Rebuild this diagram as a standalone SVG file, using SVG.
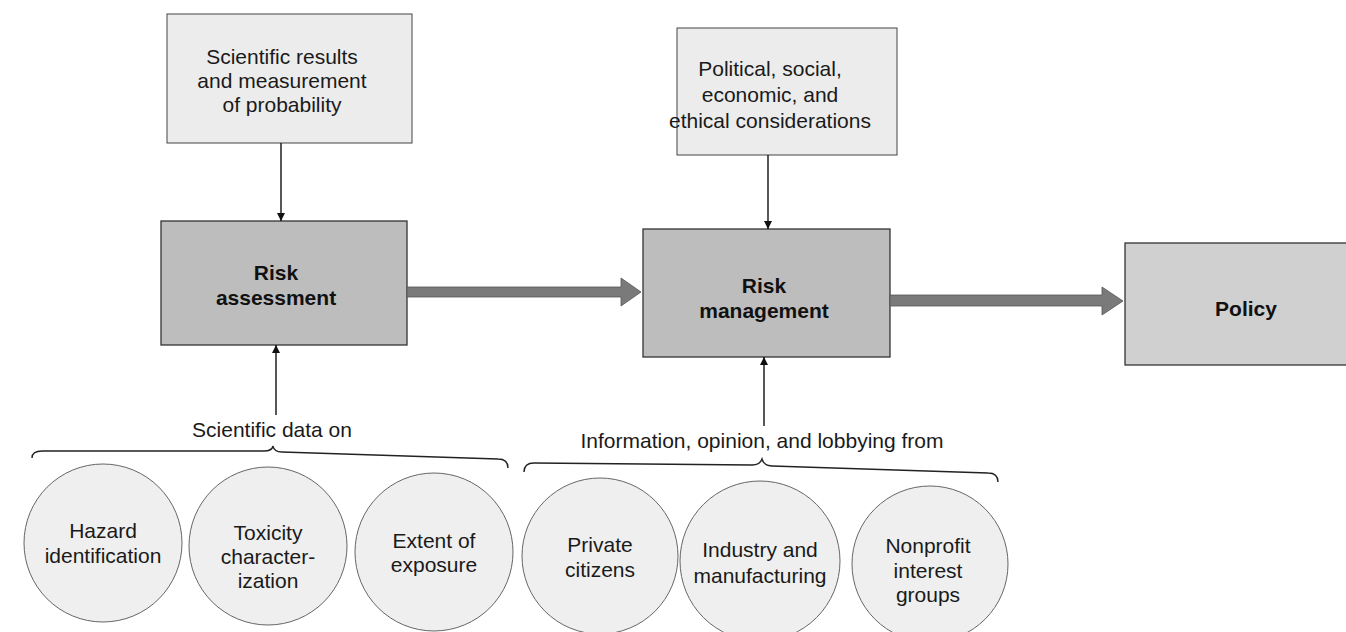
<svg xmlns="http://www.w3.org/2000/svg" width="1346" height="632" viewBox="0 0 1346 632">
<style>
text{font-family:"Liberation Sans",Arial,sans-serif;font-size:21px;fill:#1a1a1a;text-anchor:middle}
.b{font-weight:bold;fill:#111}
.top{fill:#ececec;stroke:#444;stroke-width:1}
.main{fill:#bdbdbd;stroke:#333;stroke-width:1.3}
.pol{fill:#d0d0d0;stroke:#333;stroke-width:1.3}
.circ{fill:#efefef;stroke:#666;stroke-width:1}
.thin{stroke:#111;stroke-width:1.4;fill:none}
.brace{stroke:#222;stroke-width:1.4;fill:none}
.thick{fill:#7a7a7a;stroke:#555;stroke-width:0.8}
</style>
<defs>
<marker id="ah" viewBox="0 0 10 10" refX="10" refY="5" markerWidth="8" markerHeight="10" markerUnits="userSpaceOnUse" orient="auto">
<path d="M0,0 L10,5 L0,10 Z" fill="#111"/>
</marker>
</defs>
<rect width="1346" height="632" fill="#fff"/>

<g id="sci-results">
<rect class="top" x="167" y="14" width="245" height="129"/>
<text x="282" y="64">Scientific results</text>
<text x="282" y="88">and measurement</text>
<text x="282" y="112">of probability</text>
</g>

<g id="considerations">
<rect class="top" x="677" y="28" width="220" height="127"/>
<text x="770" y="76">Political, social,</text>
<text x="770" y="102">economic, and</text>
<text x="770" y="128">ethical considerations</text>
</g>

<g id="risk-assessment">
<rect class="main" x="161" y="221" width="246" height="124"/>
<text class="b" x="276" y="280">Risk</text>
<text class="b" x="276" y="305">assessment</text>
</g>

<g id="risk-management">
<rect class="main" x="643" y="229" width="247" height="128"/>
<text class="b" x="764" y="293">Risk</text>
<text class="b" x="764" y="318">management</text>
</g>

<g id="policy">
<rect class="pol" x="1125" y="243" width="230" height="122"/>
<text class="b" x="1246" y="316">Policy</text>
</g>

<g id="sci-data-label">
<text x="272" y="437">Scientific data on</text>
</g>
<g id="info-label">
<text x="762" y="448">Information, opinion, and lobbying from</text>
</g>

<g id="hazard">
<circle class="circ" cx="103" cy="543" r="79"/>
<text x="103" y="538">Hazard</text>
<text x="103" y="563">identification</text>
</g>
<g id="toxicity">
<circle class="circ" cx="268" cy="546" r="79"/>
<text x="268" y="540">Toxicity</text>
<text x="268" y="564">character-</text>
<text x="268" y="588">ization</text>
</g>
<g id="exposure">
<circle class="circ" cx="434" cy="552" r="79"/>
<text x="434" y="548">Extent of</text>
<text x="434" y="572">exposure</text>
</g>
<g id="private">
<circle class="circ" cx="600" cy="556" r="78"/>
<text x="600" y="552">Private</text>
<text x="600" y="577">citizens</text>
</g>
<g id="industry">
<circle class="circ" cx="760" cy="561" r="80"/>
<text x="760" y="557">Industry and</text>
<text x="760" y="583">manufacturing</text>
</g>
<g id="nonprofit">
<circle class="circ" cx="930" cy="564" r="78"/>
<text x="928" y="553">Nonprofit</text>
<text x="928" y="578">interest</text>
<text x="928" y="602">groups</text>
</g>

<g id="connectors">
<line class="thin" x1="281" y1="143" x2="281" y2="221" marker-end="url(#ah)"/>
<line class="thin" x1="768" y1="155" x2="768" y2="229" marker-end="url(#ah)"/>
<line class="thin" x1="276" y1="415" x2="276" y2="345" marker-end="url(#ah)"/>
<line class="thin" x1="764" y1="426" x2="764" y2="357" marker-end="url(#ah)"/>
<path class="thick" d="M407,287 L621,287 L621,278 L641,292 L621,306 L621,297 L407,297 Z"/>
<path class="thick" d="M890,295 L1102,295 L1102,287 L1123,301 L1102,315 L1102,306 L890,306 Z"/>
<path class="brace" d="M32,458 Q32,451 42,451 L264,451 Q272,451 273,446 Q274,452 282,452 L498,459 Q508,459 508,468"/>
<path class="brace" d="M524,472 Q524,463 534,463 L752,465 Q760,465 762,459 Q764,466 772,466 L988,473 Q998,473 998,482"/>
</g>
</svg>
